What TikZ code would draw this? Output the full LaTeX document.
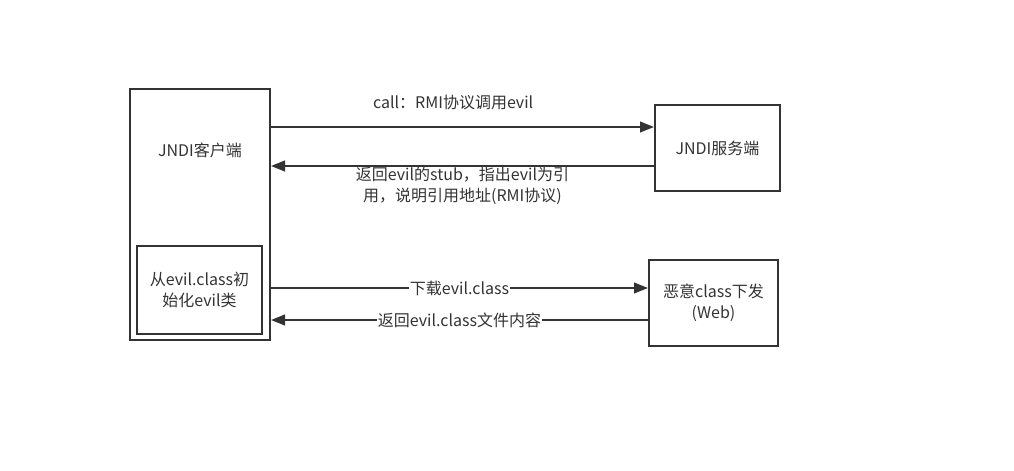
\documentclass[tikz,border=0pt]{standalone}
\usepackage{fontspec}
\setmainfont{Noto Sans CJK SC}
\usetikzlibrary{arrows.meta, positioning}
\definecolor{linegray}{HTML}{333333}

\begin{document}
\begin{tikzpicture}[x=0.75pt, y=-0.75pt, font=\fontsize{12pt}{15.75pt}\selectfont,
	box/.style = {draw=linegray, line width=1.5pt, inner sep=0pt, align=center, text=linegray},
	arr/.style = {-{Triangle[length=10.5pt, width=8pt]}, draw=linegray, line width=1.5pt},
	lbl/.style = {text=linegray, align=center, inner sep=1pt},
]
	\useasboundingbox (0,0) rectangle (1014,471);

	\node (client) [box, minimum width=105pt, minimum height=188.25pt] at (200,214.5) {};
	\node (clientname) [text=linegray] at (200,150) {JNDI客户端};
	\node (init) [box, minimum width=93.75pt, minimum height=66pt] at (199.5,290) {从evil.class初\\始化evil类};
	\node (server) [box, minimum width=93.75pt, minimum height=64.5pt] at (717.5,148) {JNDI服务端};
	\node (web) [box, minimum width=96.75pt, minimum height=64.5pt] at (713.5,303) {恶意class下发\\(Web)};

	\coordinate (s1) at ([yshift=15.75pt]server.west);
	\coordinate (s2) at ([yshift=-13.5pt]server.west);
	\coordinate (w1) at ([yshift=11.25pt]web.west);
	\coordinate (w2) at ([yshift=-12.75pt]web.west);

	\draw [arr] (client.east |- s1) -- node [lbl, yshift=18.75pt, xshift=-7pt] {call：RMI协议调用evil} (s1);
	\draw [arr] (s2) -- node [lbl, yshift=-14.6pt] {返回evil的stub，指出evil为引\\用，说明引用地址(RMI协议)} (client.east |- s2);
	\draw [arr] (client.east |- w1) -- node [lbl, fill=white] {下载evil.class} (w1);
	\draw [arr] (w2) -- node [lbl, fill=white] {返回evil.class文件内容} (client.east |- w2);
\end{tikzpicture}
\end{document}
